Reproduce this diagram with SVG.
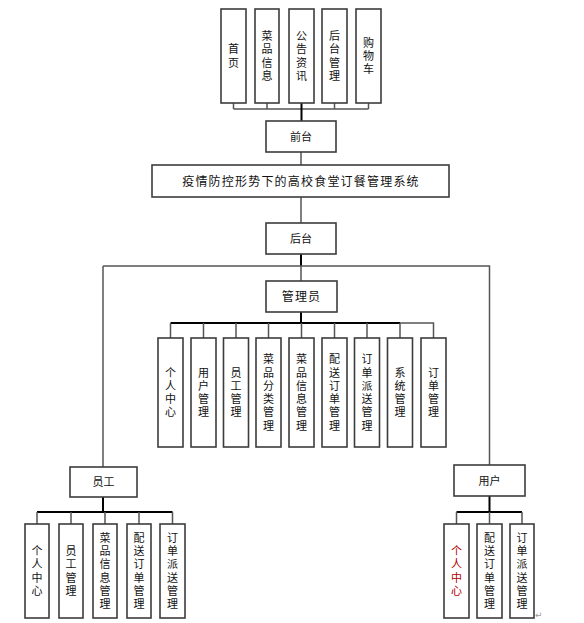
<svg xmlns="http://www.w3.org/2000/svg" width="584" height="623" viewBox="0 0 584 623">
<style>
.b{fill:#fff;stroke:#3c3c3c;stroke-width:1.6}
.t{font-family:"Noto Sans CJK SC","Liberation Sans",sans-serif;font-size:11px;fill:#111;text-anchor:middle}
.v{font-family:"Noto Sans CJK SC","Liberation Sans",sans-serif;font-size:11px;fill:#111;text-anchor:middle;writing-mode:vertical-rl;text-orientation:upright;letter-spacing:2.3px}
.tt{font-family:"Noto Sans CJK SC","Liberation Sans",sans-serif;font-size:12px;fill:#111;text-anchor:middle;letter-spacing:1.2px}
.c{fill:none;stroke:#555;stroke-width:1.5}
.k{fill:none;stroke:#000;stroke-width:2}
</style>
<rect width="584" height="623" fill="#fff"/>
<g id="connectors">
<path class="c" d="M233.5 103V109M267 103V109M334.5 103V109M368.5 103V109M233.5 109H368.5"/>
<path class="k" d="M301.5 103V121"/>
<path class="c" d="M301 152V165M301 197V223"/>
<path class="k" d="M301 254V266"/>
<path class="c" d="M103 266H489.5V465M103 266V467M301 266V281"/>
<path class="k" d="M301 312V323M170.5 323H400"/>
<path class="c" d="M400 323H433.5V338M400 323V338"/>
<path class="c" d="M170.5 323V338M203.5 323V338M236 323V338M268.5 323V338M301.5 323V338M334.5 323V338M367 323V338"/>
<path class="k" d="M103 497V512M37 512H172.5"/>
<path class="c" d="M37 512V524M71 512V524M105 512V524M139 512V524M172.5 512V524"/>
<path class="k" d="M489.5 496V512M456.5 512H522"/>
<path class="c" d="M456.5 512V524M489.5 512V524M522 512V524"/>
</g>
<g id="n-home"><rect class="b" x="221" y="9" width="25" height="94"/><text class="v" x="233.5" y="57">首页</text></g>
<g id="n-dish-info"><rect class="b" x="255" y="9" width="24" height="94"/><text class="v" x="267" y="57">菜品信息</text></g>
<g id="n-notice"><rect class="b" x="289" y="9" width="25" height="94"/><text class="v" x="301.5" y="57">公告资讯</text></g>
<g id="n-admin-link"><rect class="b" x="322" y="9" width="25" height="94"/><text class="v" x="334.5" y="57">后台管理</text></g>
<g id="n-cart"><rect class="b" x="356" y="9" width="25" height="94"/><text class="v" x="368.5" y="57">购物车</text></g>
<g id="n-front"><rect class="b" x="266" y="121" width="70" height="31"/><text class="t" x="301" y="140.5">前台</text></g>
<g id="n-system"><rect class="b" x="152" y="165" width="297" height="32"/><text class="tt" x="301" y="185.5">疫情防控形势下的高校食堂订餐管理系统</text></g>
<g id="n-back"><rect class="b" x="266" y="223" width="70" height="31"/><text class="t" x="301" y="242.5">后台</text></g>
<g id="n-admin"><rect class="b" x="266" y="281" width="71" height="31"/><text class="tt" x="301.5" y="300.5">管理员</text></g>
<g id="a-personal"><rect class="b" x="158" y="338" width="25" height="109"/><text class="v" x="170.5" y="393.5">个人中心</text></g>
<g id="a-user"><rect class="b" x="191" y="338" width="25" height="109"/><text class="v" x="203.5" y="393.5">用户管理</text></g>
<g id="a-staff"><rect class="b" x="223.5" y="338" width="25" height="109"/><text class="v" x="236" y="393.5">员工管理</text></g>
<g id="a-category"><rect class="b" x="256" y="338" width="25" height="109"/><text class="v" x="268.5" y="393.5">菜品分类管理</text></g>
<g id="a-dish"><rect class="b" x="289" y="338" width="25" height="109"/><text class="v" x="301.5" y="393.5">菜品信息管理</text></g>
<g id="a-delivery"><rect class="b" x="322" y="338" width="25" height="109"/><text class="v" x="334.5" y="393.5">配送订单管理</text></g>
<g id="a-dispatch"><rect class="b" x="354.5" y="338" width="25" height="109"/><text class="v" x="367" y="393.5">订单派送管理</text></g>
<g id="a-system"><rect class="b" x="387.5" y="338" width="25" height="109"/><text class="v" x="400" y="393.5">系统管理</text></g>
<g id="a-order"><rect class="b" x="421" y="338" width="25" height="109"/><text class="v" x="433.5" y="393.5">订单管理</text></g>
<g id="n-staff"><rect class="b" x="70" y="467" width="67" height="30"/><text class="t" x="103.5" y="486">员工</text></g>
<g id="s-personal"><rect class="b" x="25" y="524" width="24" height="94"/><text class="v" x="37" y="572">个人中心</text></g>
<g id="s-staff"><rect class="b" x="59" y="524" width="24" height="94"/><text class="v" x="71" y="572">员工管理</text></g>
<g id="s-dish"><rect class="b" x="93" y="524" width="24" height="94"/><text class="v" x="105" y="572">菜品信息管理</text></g>
<g id="s-delivery"><rect class="b" x="127" y="524" width="24" height="94"/><text class="v" x="139" y="572">配送订单管理</text></g>
<g id="s-dispatch"><rect class="b" x="160" y="524" width="25" height="94"/><text class="v" x="172.5" y="572">订单派送管理</text></g>
<g id="n-user"><rect class="b" x="454" y="465" width="71" height="31"/><text class="t" x="489.5" y="484.5">用户</text></g>
<g id="u-personal"><rect class="b" x="444" y="524" width="25" height="94"/><text class="v" x="456.5" y="572" style="fill:#b00000">个人中心</text></g>
<g id="u-delivery"><rect class="b" x="477" y="524" width="25" height="94"/><text class="v" x="489.5" y="572">配送订单管理</text></g>
<g id="u-dispatch"><rect class="b" x="510" y="524" width="24" height="94"/><text class="v" x="522" y="572">订单派送管理</text></g>
<text x="535" y="618" style="font-family:'DejaVu Sans',sans-serif;font-size:9px;fill:#999">↵</text>
</svg>
